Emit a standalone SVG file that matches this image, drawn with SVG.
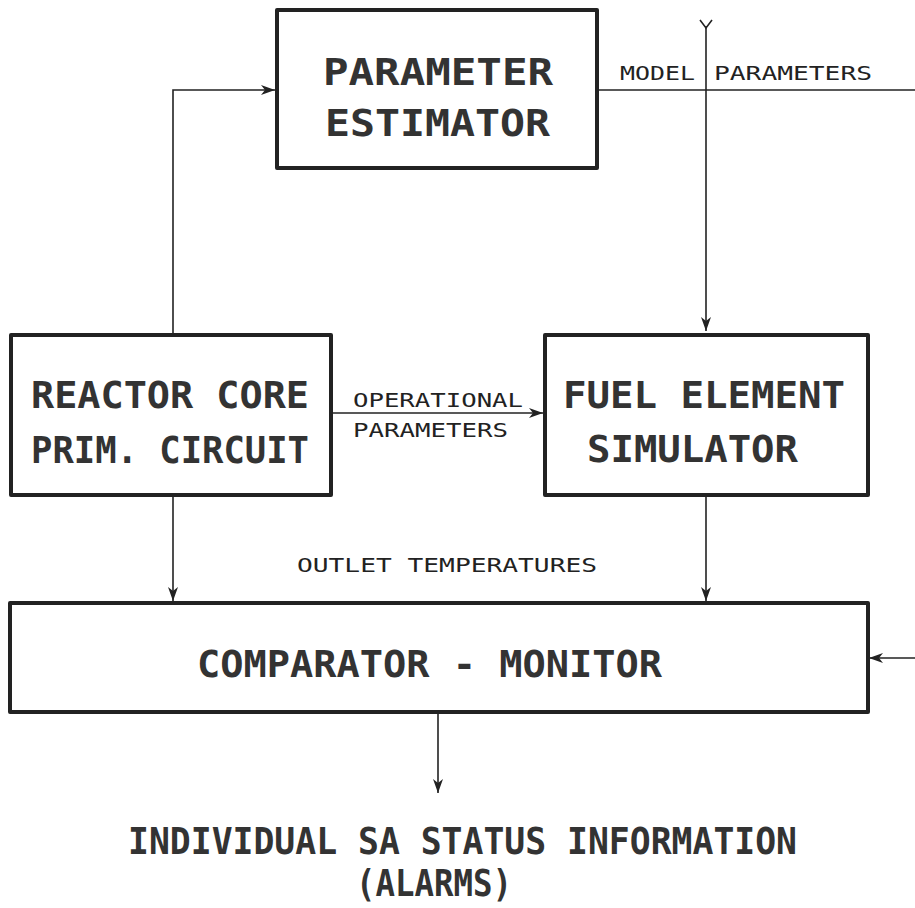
<svg xmlns="http://www.w3.org/2000/svg" width="915" height="908" viewBox="0 0 915 908">
<defs>
<marker id="ah" viewBox="0 0 14 10" refX="14" refY="5" markerWidth="14" markerHeight="10" markerUnits="userSpaceOnUse" orient="auto">
<path d="M0,0 L14,5 L0,10 L4,5 Z" fill="#222"/>
</marker>
</defs>
<style>
.box{fill:#fff;stroke:#222;stroke-width:4;stroke-linejoin:round}
.con{fill:none;stroke:#222;stroke-width:1.6}
.big{font-family:"DejaVu Sans Mono","Liberation Mono",monospace;font-weight:bold;fill:#333;font-size:38px}
.sm{font-family:"DejaVu Sans Mono","Liberation Mono",monospace;fill:#222;font-size:20px}
</style>
<rect width="915" height="908" fill="#fff"/>
<g id="connectors">
<path class="con" d="M173,335 V90 H275" marker-end="url(#ah)"/>
<path class="con" d="M597,90 H915"/>
<path class="con" d="M706,26 V331" marker-end="url(#ah)"/>
<path class="con" d="M700,20 L706,28 L712,20"/>
<path class="con" d="M332,413 H543" marker-end="url(#ah)"/>
<path class="con" d="M173,495 V601" marker-end="url(#ah)"/>
<path class="con" d="M706,495 V601" marker-end="url(#ah)"/>
<path class="con" d="M915,658 H869" marker-end="url(#ah)"/>
<path class="con" d="M438,712 V793" marker-end="url(#ah)"/>
</g>
<g id="parameter-estimator">
<rect class="box" x="277" y="10" width="320" height="158"/>
<text class="big" x="323" y="85" textLength="230" lengthAdjust="spacingAndGlyphs">PARAMETER</text>
<text class="big" x="325" y="136" textLength="225" lengthAdjust="spacingAndGlyphs">ESTIMATOR</text>
</g>
<g id="model-parameters-label">
<text class="sm" x="620" y="80" textLength="75" lengthAdjust="spacingAndGlyphs">MODEL</text>
<text class="sm" x="714" y="80" textLength="158" lengthAdjust="spacingAndGlyphs">PARAMETERS</text>
</g>
<g id="reactor-core">
<rect class="box" x="11" y="335" width="320" height="160"/>
<text class="big" x="31" y="408" textLength="278" lengthAdjust="spacingAndGlyphs">REACTOR CORE</text>
<text class="big" x="31" y="463" textLength="278" lengthAdjust="spacingAndGlyphs">PRIM. CIRCUIT</text>
</g>
<g id="operational-label">
<text class="sm" x="353" y="407" textLength="170" lengthAdjust="spacingAndGlyphs">OPERATIONAL</text>
<text class="sm" x="353" y="437" textLength="155" lengthAdjust="spacingAndGlyphs">PARAMETERS</text>
</g>
<g id="fuel-element-simulator">
<rect class="box" x="545" y="335" width="323" height="160"/>
<text class="big" x="563" y="408" textLength="282" lengthAdjust="spacingAndGlyphs">FUEL ELEMENT</text>
<text class="big" x="587" y="462" textLength="211" lengthAdjust="spacingAndGlyphs">SIMULATOR</text>
</g>
<g id="outlet-label">
<text class="sm" x="297" y="572" textLength="300" lengthAdjust="spacingAndGlyphs">OUTLET TEMPERATURES</text>
</g>
<g id="comparator-monitor">
<rect class="box" x="10" y="603" width="858" height="109"/>
<text class="big" x="197" y="677" textLength="465" lengthAdjust="spacingAndGlyphs">COMPARATOR - MONITOR</text>
</g>
<g id="status-output">
<text class="big" x="128" y="854" textLength="669" lengthAdjust="spacingAndGlyphs">INDIVIDUAL SA STATUS INFORMATION</text>
<text class="big" x="356" y="896" font-size="36" textLength="156" lengthAdjust="spacingAndGlyphs">(ALARMS)</text>
</g>
</svg>
